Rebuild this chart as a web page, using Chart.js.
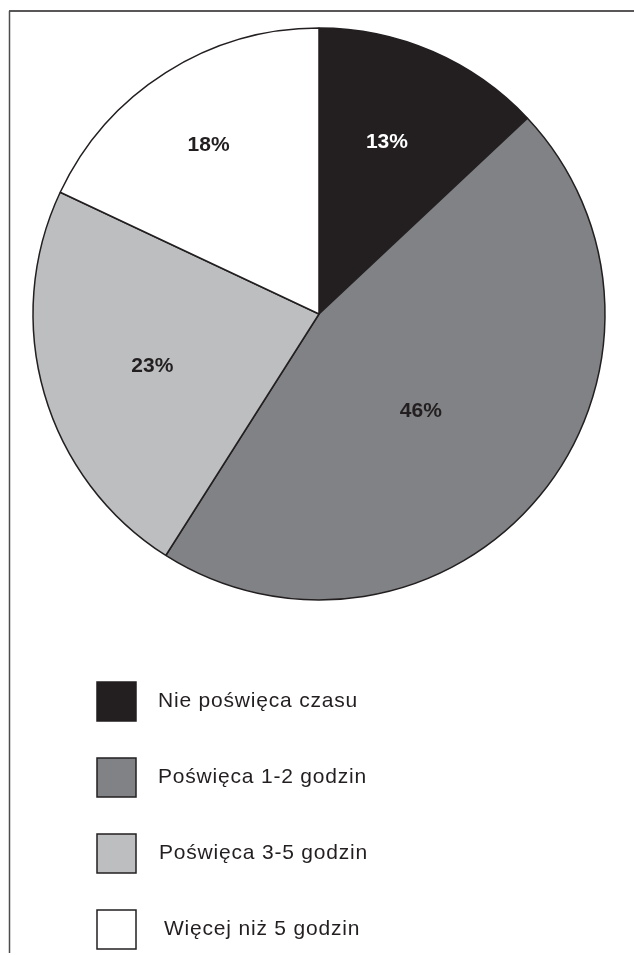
<!DOCTYPE html>
<html>
<head>
<meta charset="utf-8">
<title>Czas</title>
<script src="https://cdn.jsdelivr.net/npm/chart.js@4.4.1/dist/chart.umd.min.js"></script>
<style>
  html, body { margin: 0; padding: 0; background: #fff; }
  #wrap { width: 634px; height: 955px; position: relative; }
</style>
</head>
<body>
<div id="wrap"><canvas id="pie" width="634" height="955"></canvas></div>
<script>
// slices, clockwise from 12 o'clock
const categories = ['Nie poświęca czasu', 'Poświęca 1-2 godzin', 'Poświęca 3-5 godzin', 'Więcej niż 5 godzin'];
const shares = [13, 46, 23, 18];
const sliceColors = ['#231f20', '#808285', '#bcbec0', '#ffffff'];

const ink = '#231f20';
// how far out (fraction of radius) and how far round (degrees) each % label sits
const labelRadius = [0.648, 0.49, 0.61, 0.707];
const labelTurn = [-1.9, 3.8, -1, -0.7];

// percentage text inside each slice
const sliceLabels = {
    id: 'sliceLabels',
    afterDatasetsDraw(chart) {
        const ctx = chart.ctx;
        const arcs = chart.getDatasetMeta(0).data;
        ctx.save();
        ctx.font = 'bold 21px "Liberation Sans", Arial, sans-serif';
        ctx.textAlign = 'center';
        ctx.textBaseline = 'middle';
        arcs.forEach((arc, i) => {
            const { x, y, startAngle, endAngle, outerRadius } = arc.getProps(['x', 'y', 'startAngle', 'endAngle', 'outerRadius'], true);
            const mid = (startAngle + endAngle) / 2 + labelTurn[i] * Math.PI / 180;
            const r = outerRadius * labelRadius[i];
            ctx.fillStyle = i === 0 ? '#ffffff' : ink;
            ctx.fillText(shares[i] + '%', x + Math.cos(mid) * r, y + Math.sin(mid) * r + 1);
        });
        ctx.restore();
    }
};

// square-swatch legend stacked under the pie, plus the page frame
const sideLegend = {
    id: 'sideLegend',
    afterDraw(chart) {
        const ctx = chart.ctx;
        ctx.save();

        // frame: top rule and left rule
        ctx.strokeStyle = ink;
        ctx.lineWidth = 1.5;
        ctx.beginPath();
        ctx.moveTo(9, 11);
        ctx.lineTo(634, 11);
        ctx.stroke();
        ctx.strokeStyle = '#4d4d4f';
        ctx.beginPath();
        ctx.moveTo(9.5, 11);
        ctx.lineTo(9.5, 953);
        ctx.stroke();

        const boxX = 97, boxY = 682, box = 39, step = 76;
        const textX = [158, 158, 159, 164];
        ctx.font = '21px "Liberation Sans", Arial, sans-serif';
        ctx.textBaseline = 'middle';
        ctx.textAlign = 'left';
        ctx.letterSpacing = '0.8px';
        categories.forEach((name, i) => {
            const y = boxY + i * step;
            ctx.fillStyle = sliceColors[i];
            ctx.fillRect(boxX, y, box, box);
            ctx.strokeStyle = ink;
            ctx.lineWidth = 1.5;
            ctx.strokeRect(boxX, y, box, box);
            ctx.fillStyle = ink;
            ctx.fillText(name, textX[i], y + box / 2);
        });
        ctx.restore();
    }
};

new Chart(document.getElementById('pie'), {
    type: 'pie',
    data: {
        labels: categories,
        datasets: [{
            data: shares,
            backgroundColor: sliceColors,
            borderColor: ink,
            borderWidth: 1.5,
            hoverOffset: 0
        }]
    },
    options: {
        responsive: false,
        animation: false,
        events: [],
        layout: {
            padding: { left: 32.25, top: 27.25, right: 28.25, bottom: 354.25 }
        },
        plugins: {
            legend: { display: false },
            tooltip: { enabled: false }
        }
    },
    plugins: [sliceLabels, sideLegend]
});
</script>
</body>
</html>
